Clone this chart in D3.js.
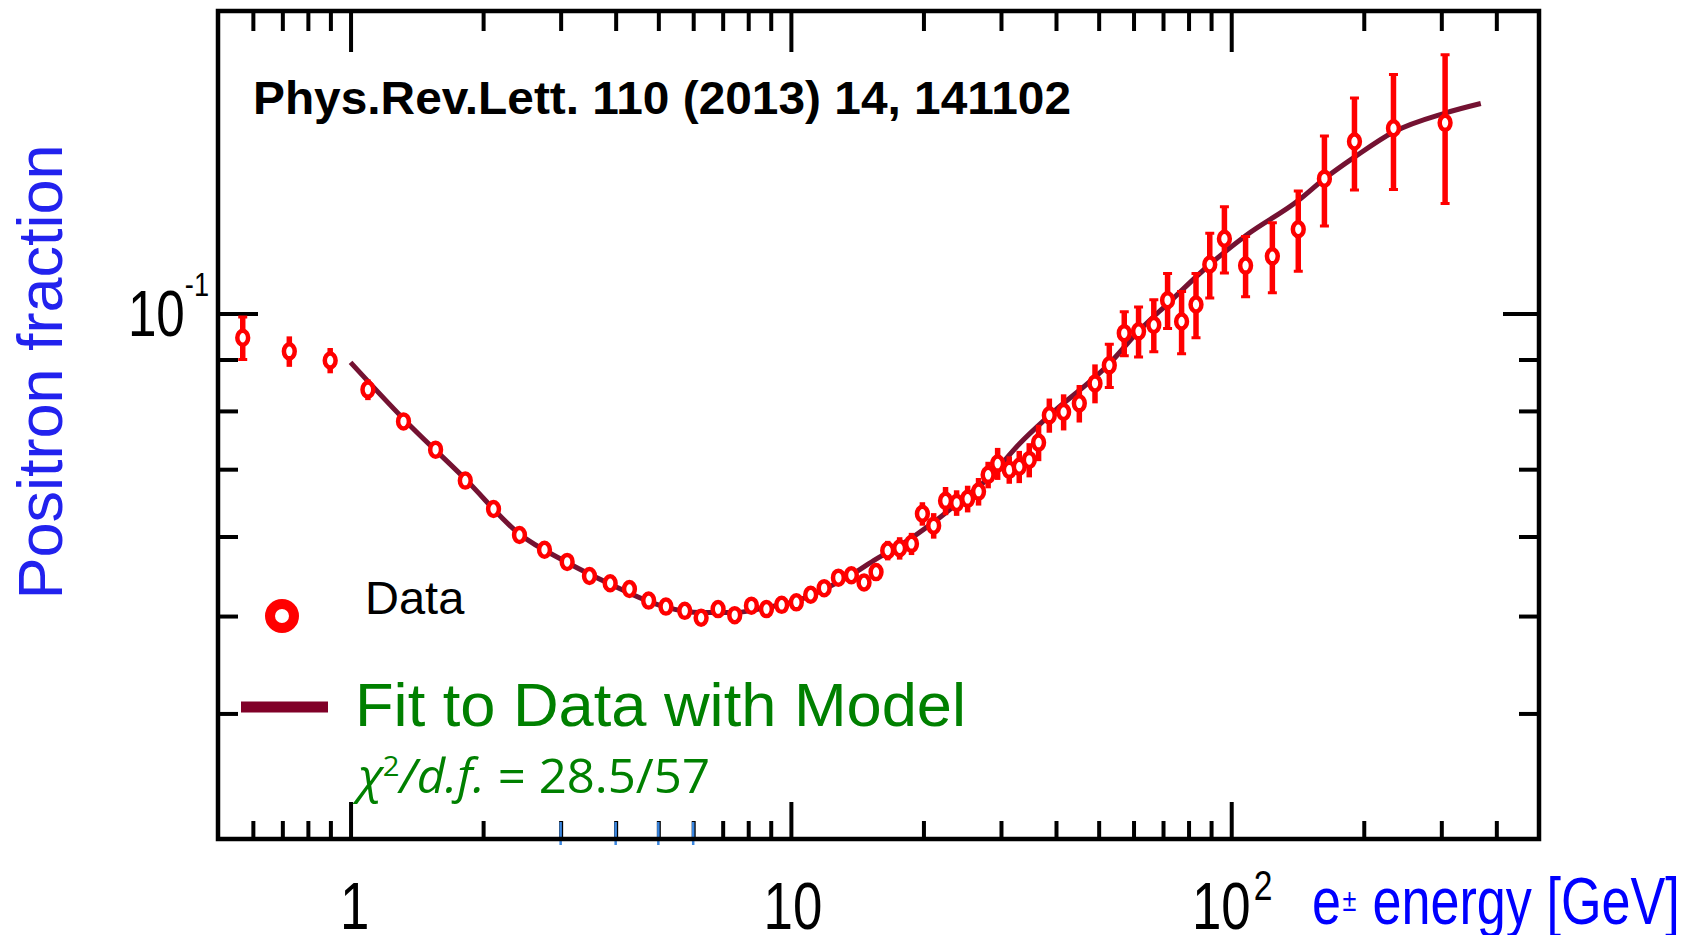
<!DOCTYPE html>
<html>
<head>
<meta charset="utf-8">
<script src="https://cdn.jsdelivr.net/npm/d3@7"></script>
<style>
  html, body { margin: 0; padding: 0; background: #fff; }
  svg { display: block; }
</style>
</head>
<body>
<div id="chart"></div>
<script>
// positron fraction vs e+- energy
const energy = [0.569, 0.726, 0.899, 1.095, 1.319, 1.560, 1.822, 2.112, 2.419, 2.757,
  3.104, 3.488, 3.887, 4.299, 4.753, 5.203, 5.741, 6.254, 6.834, 7.455,
  8.135, 8.80, 9.53, 10.29, 11.09, 11.90, 12.82, 13.72, 14.66, 15.61,
  16.59, 17.66, 18.79, 19.89, 21.10, 22.45, 23.79, 25.20, 26.68, 28.05,
  29.48, 31.33, 33.01, 34.78, 36.52, 38.63, 41.63, 45.19, 49.05, 52.86,
  57.16, 61.60, 66.71, 71.69, 77.14, 83.18, 89.39, 96.5, 107.8, 124.0,
  142.0, 162.8, 190.5, 233.6, 306.0];
const fraction = [0.0946, 0.0917, 0.0898, 0.0840, 0.0781, 0.0732, 0.0682, 0.0639, 0.0602, 0.0582,
  0.0566, 0.0548, 0.0539, 0.0532, 0.0518, 0.0511, 0.0506, 0.0498, 0.0508, 0.0501,
  0.0512, 0.0508, 0.0513, 0.0516, 0.0525, 0.0533, 0.0546, 0.0549, 0.0540, 0.0553,
  0.0581, 0.0584, 0.0590, 0.0632, 0.0615, 0.0651, 0.0648, 0.0654, 0.0665, 0.0691,
  0.0709, 0.0699, 0.0704, 0.0715, 0.0744, 0.0792, 0.0798, 0.0814, 0.0852, 0.0888,
  0.0956, 0.0960, 0.0974, 0.1031, 0.0982, 0.1021, 0.1119, 0.1187, 0.1116, 0.1140,
  0.1213, 0.1362, 0.1483, 0.1529, 0.1548];
const fractionErr = [0.0046, 0.0032, 0.0026, 0.0020, 0.0006, 0.0006, 0.0006, 0.0006, 0.0006, 0.0006,
  0.0006, 0.0006, 0.0006, 0.0006, 0.0006, 0.0006, 0.0006, 0.0006, 0.0007, 0.0007,
  0.0007, 0.0007, 0.0007, 0.0007, 0.0007, 0.0007, 0.0007, 0.0009, 0.0009, 0.0011,
  0.0013, 0.0015, 0.0015, 0.0017, 0.0018, 0.0021, 0.0019, 0.0020, 0.0021, 0.0021,
  0.0026, 0.0022, 0.0026, 0.0028, 0.0031, 0.0031, 0.0033, 0.0035, 0.0038, 0.0044,
  0.0048, 0.0055, 0.0058, 0.0065, 0.0070, 0.0075, 0.0083, 0.0090, 0.0077, 0.0091,
  0.0111, 0.0140, 0.0156, 0.0200, 0.0261];

// fit curve, sampled off the figure
const fitEnergy = [1.0, 1.319, 1.822, 2.419, 3.104, 3.887, 5.162, 6.254, 7.455, 8.80,
  10.29, 11.90, 13.81, 15.61, 17.63, 21.10, 23.79, 28.23, 33.01, 38.63,
  52.86, 61.82, 71.69, 89.39, 108.0, 142.0, 162.8, 190.5, 233.6, 306.0, 368.8];
const fitFraction = [0.0894, 0.07855, 0.06844, 0.06033, 0.05653, 0.05380, 0.05107, 0.05040, 0.05040, 0.05098,
  0.05177, 0.05318, 0.05504, 0.05697, 0.05873, 0.06198, 0.06463, 0.06871, 0.07417, 0.07916,
  0.08913, 0.09618, 0.10225, 0.11189, 0.11959, 0.12956, 0.1362, 0.1431, 0.1516, 0.1583, 0.1618];

const xMajorTicks = [1, 10, 100];
const xMinorTicks = [0.6, 0.7, 0.8, 0.9, 2, 3, 4, 5, 6, 7, 8, 9, 20, 30, 40, 50, 60, 70, 80, 90, 200, 300, 400];
const xBlueTicks = [3, 4, 5, 6];
const yMajorTicks = [0.1];
const yMinorTicks = [0.04, 0.05, 0.06, 0.07, 0.08, 0.09];

const W = 1702, H = 935;
const plotLeft = 218, plotRight = 1539, plotTop = 11, plotBottom = 839;
const ARIAL = "'Liberation Sans', Arial, Helvetica, sans-serif";
const RED = "#ff0000";
const NARROW = 0.8; // the axis labels use a condensed face

const svg = d3.select("#chart").append("svg")
  .attr("width", W)
  .attr("height", H);
svg.append("rect").attr("width", W).attr("height", H).attr("fill", "#fff");

const x = d3.scaleLog().domain([0.5, 500]).range([plotLeft, plotRight]);
const y = d3.scaleLog().domain([0.03, 0.2]).range([plotBottom, plotTop]);

// ticks, all pointing inward
function ticks(axis, values, size, transform) {
  svg.append("g")
    .attr("transform", transform)
    .call(axis.tickValues(values).tickSize(-size).tickFormat(""))
    .call(g => g.select(".domain").remove())
    .call(g => g.selectAll("line").attr("stroke", "#000").attr("stroke-width", 4));
}
ticks(d3.axisBottom(x), xMinorTicks, 18, `translate(0,${plotBottom})`);
ticks(d3.axisBottom(x), xMajorTicks, 37, `translate(0,${plotBottom})`);
ticks(d3.axisTop(x), xMinorTicks, 20, `translate(0,${plotTop})`);
ticks(d3.axisTop(x), xMajorTicks, 41, `translate(0,${plotTop})`);
ticks(d3.axisLeft(y), yMinorTicks, 20, `translate(${plotLeft},0)`);
ticks(d3.axisLeft(y), yMajorTicks, 40, `translate(${plotLeft},0)`);
ticks(d3.axisRight(y), yMinorTicks, 20, `translate(${plotRight},0)`);
ticks(d3.axisRight(y), yMajorTicks, 36, `translate(${plotRight},0)`);

svg.append("g").selectAll("line")
  .data(xBlueTicks)
  .join("line")
  .attr("x1", d => x(d)).attr("x2", d => x(d))
  .attr("y1", plotBottom - 17).attr("y2", plotBottom + 6)
  .attr("stroke", "#3a86e0")
  .attr("stroke-width", 2.5);

svg.append("rect")
  .attr("x", plotLeft).attr("y", plotTop)
  .attr("width", plotRight - plotLeft).attr("height", plotBottom - plotTop)
  .attr("fill", "none")
  .attr("stroke", "#000")
  .attr("stroke-width", 4.5);

// fit curve
const fitLine = d3.line()
  .x((d, i) => x(fitEnergy[i]))
  .y(d => y(d))
  .curve(d3.curveMonotoneX);
svg.append("path")
  .datum(fitFraction)
  .attr("d", fitLine)
  .attr("fill", "none")
  .attr("stroke", "#741232")
  .attr("stroke-width", 5);

// data with error bars
const points = energy.map((e, i) => ({e, f: fraction[i], err: fractionErr[i]}));
const bars = svg.append("g").attr("stroke", RED);
bars.selectAll("line.bar")
  .data(points)
  .join("line")
  .attr("class", "bar")
  .attr("x1", d => x(d.e)).attr("x2", d => x(d.e))
  .attr("y1", d => y(d.f - d.err)).attr("y2", d => y(d.f + d.err))
  .attr("stroke-width", 5.5);
bars.selectAll("path.cap")
  .data(points.filter(d => d.err > 0.004))
  .join("path")
  .attr("class", "cap")
  .attr("d", d => `M${x(d.e) - 4.5},${y(d.f - d.err)}h9M${x(d.e) - 4.5},${y(d.f + d.err)}h9`)
  .attr("stroke-width", 3);

svg.append("g").selectAll("ellipse")
  .data(points)
  .join("ellipse")
  .attr("cx", d => x(d.e))
  .attr("cy", d => y(d.f))
  .attr("rx", 5.4)
  .attr("ry", 7)
  .attr("fill", "#fff")
  .attr("stroke", RED)
  .attr("stroke-width", 4.5);

// legend
svg.append("circle")
  .attr("cx", 282).attr("cy", 616).attr("r", 12)
  .attr("fill", "none").attr("stroke", RED).attr("stroke-width", 10);
svg.append("text")
  .attr("x", 365).attr("y", 614)
  .style("font-family", ARIAL).style("font-size", "47px")
  .text("Data");
svg.append("line")
  .attr("x1", 241).attr("x2", 328).attr("y1", 707).attr("y2", 707)
  .attr("stroke", "#800028").attr("stroke-width", 11);
svg.append("text")
  .attr("x", 355).attr("y", 726)
  .attr("textLength", 611).attr("lengthAdjust", "spacingAndGlyphs")
  .style("font-family", ARIAL).style("font-size", "62px")
  .attr("fill", "#008000")
  .text("Fit to Data with Model");

const chi = svg.append("text")
  .attr("x", 358).attr("y", 793)
  .attr("textLength", 352).attr("lengthAdjust", "spacingAndGlyphs")
  .style("font-family", "'Open Sans', Lato, sans-serif").style("font-size", "47px")
  .attr("fill", "#008000");
chi.append("tspan").style("font-style", "italic").text("χ");
chi.append("tspan").attr("dy", -17).style("font-size", "28px").text("2");
chi.append("tspan").attr("dy", 17).style("font-style", "italic").text("/d.f.");
chi.append("tspan").text(" = 28.5/57");

// title
svg.append("text")
  .attr("x", 253).attr("y", 114)
  .attr("textLength", 818).attr("lengthAdjust", "spacingAndGlyphs")
  .style("font-family", ARIAL).style("font-size", "47px").style("font-weight", "bold")
  .text("Phys.Rev.Lett. 110 (2013) 14, 141102");

// y axis title and label
svg.append("text")
  .attr("transform", "translate(62,372) rotate(-90)")
  .attr("text-anchor", "middle")
  .style("font-family", ARIAL).style("font-size", "63px")
  .attr("fill", "#2222ee")
  .text("Positron fraction");

const yLab = svg.append("text")
  .attr("transform", `translate(209,${y(0.1) + 22}) scale(${NARROW},1)`)
  .attr("text-anchor", "end")
  .style("font-family", ARIAL).style("font-size", "64px");
yLab.append("tspan").text("10");
yLab.append("tspan").attr("dy", -40).style("font-size", "34px").text("-1");

// x axis labels
const xLabelY = 929;
const xLabels = [
  {v: 1, base: "1", sup: "", dx: 4},
  {v: 10, base: "10", sup: "", dx: 2},
  {v: 100, base: "10", sup: "2", dx: 1}
];
xLabels.forEach(d => {
  const t = svg.append("text")
    .attr("transform", `translate(${x(d.v) + d.dx},${xLabelY}) scale(${NARROW},1)`)
    .attr("text-anchor", "middle")
    .style("font-family", ARIAL).style("font-size", "66px");
  t.append("tspan").text(d.base);
  if (d.sup) t.append("tspan").attr("dy", -29).attr("dx", 4).style("font-size", "42px").text(d.sup);
});

// x axis title
const xTitle = svg.append("text")
  .attr("transform", `translate(1312,924) scale(0.79,1)`)
  .style("font-family", ARIAL).style("font-size", "66px")
  .attr("fill", "#0000ff");
xTitle.append("tspan").text("e");
xTitle.append("tspan").attr("dy", -13).attr("dx", 2).style("font-size", "32px").text("±");
xTitle.append("tspan").attr("dy", 13).attr("dx", 2).text(" energy [GeV]");
</script>
</body>
</html>
